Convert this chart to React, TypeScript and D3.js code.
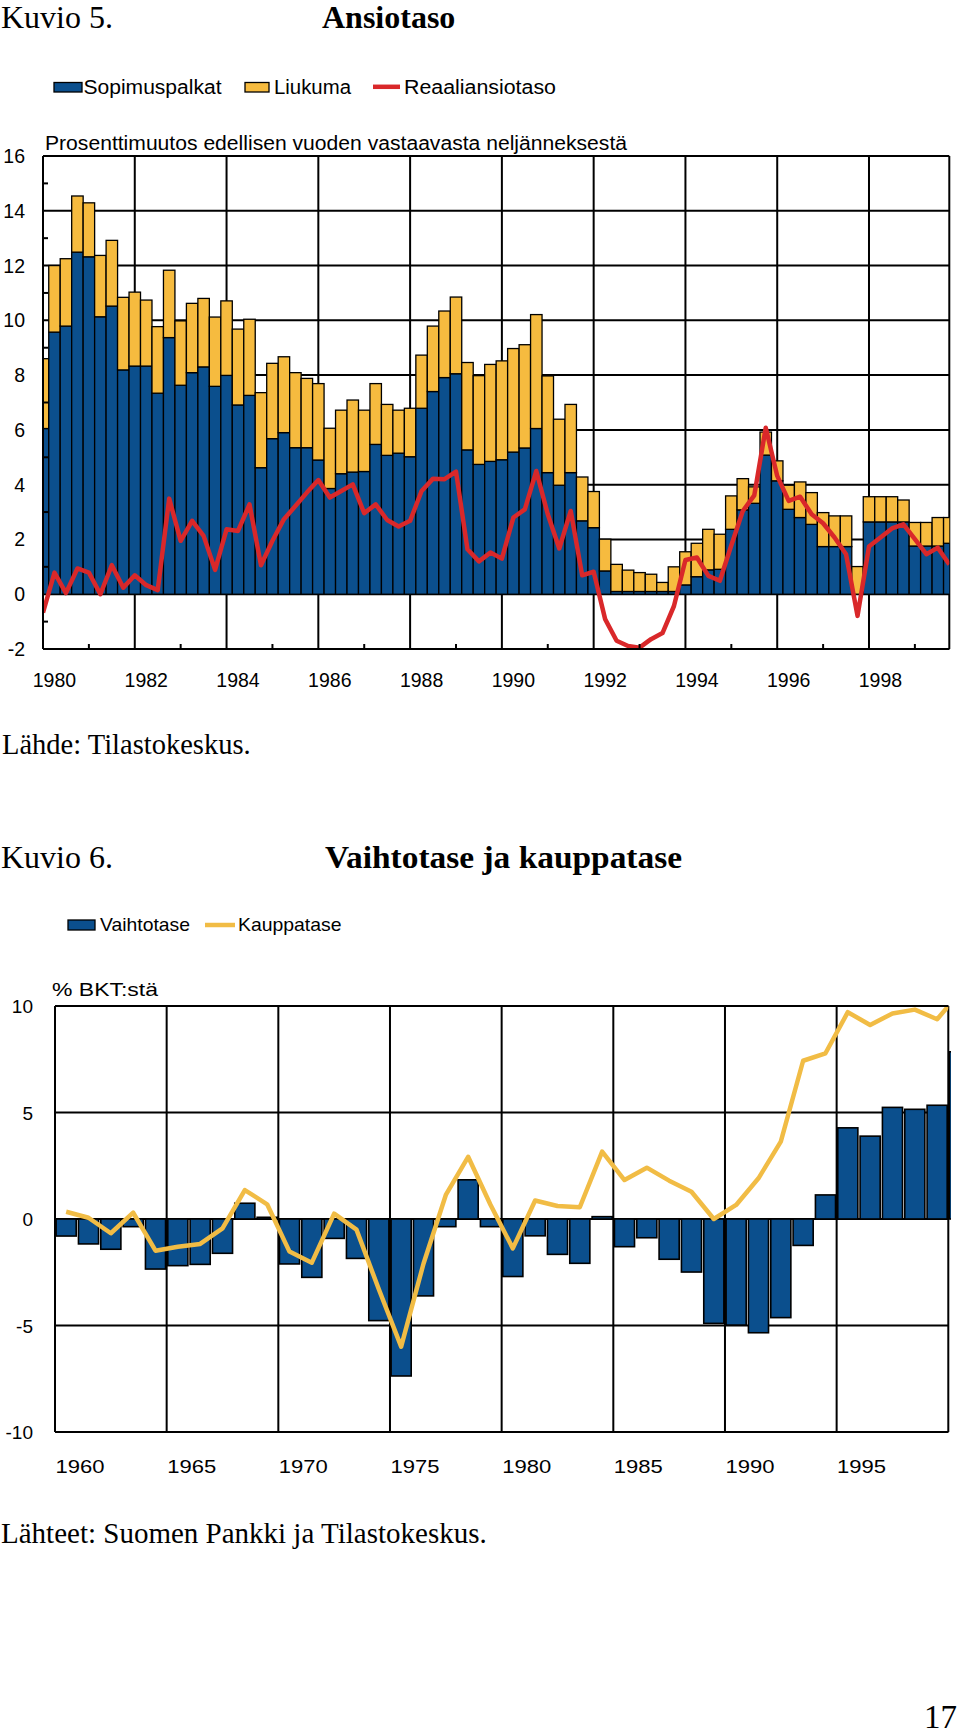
import React, { useEffect } from 'react';
import * as d3 from 'd3';

const SANS = "'Liberation Sans', Arial, Helvetica, sans-serif";
const SERIF = "'Liberation Serif', 'Times New Roman', Times, serif";

const BLUE = '#0b4f8d';
const YELLOW = '#f6bb3f';
const RED = '#d9282a';
const LINEYEL = '#f1bc45';
const INK = '#000000';

// ---------- Kuvio 5: Ansiotaso (quarterly, 1979Q4 .. 1999Q3) ----------
const quarters = [
  '1979Q4',
  '1980Q1', '1980Q2', '1980Q3', '1980Q4', '1981Q1', '1981Q2', '1981Q3', '1981Q4',
  '1982Q1', '1982Q2', '1982Q3', '1982Q4', '1983Q1', '1983Q2', '1983Q3', '1983Q4',
  '1984Q1', '1984Q2', '1984Q3', '1984Q4', '1985Q1', '1985Q2', '1985Q3', '1985Q4',
  '1986Q1', '1986Q2', '1986Q3', '1986Q4', '1987Q1', '1987Q2', '1987Q3', '1987Q4',
  '1988Q1', '1988Q2', '1988Q3', '1988Q4', '1989Q1', '1989Q2', '1989Q3', '1989Q4',
  '1990Q1', '1990Q2', '1990Q3', '1990Q4', '1991Q1', '1991Q2', '1991Q3', '1991Q4',
  '1992Q1', '1992Q2', '1992Q3', '1992Q4', '1993Q1', '1993Q2', '1993Q3', '1993Q4',
  '1994Q1', '1994Q2', '1994Q3', '1994Q4', '1995Q1', '1995Q2', '1995Q3', '1995Q4',
  '1996Q1', '1996Q2', '1996Q3', '1996Q4', '1997Q1', '1997Q2', '1997Q3', '1997Q4',
  '1998Q1', '1998Q2', '1998Q3', '1998Q4', '1999Q1', '1999Q2', '1999Q3',
];

const sopimuspalkat = [
  6.05,
  9.57, 9.79, 12.49, 12.32, 10.13, 10.52, 8.19, 8.33,
  8.33, 7.34, 9.37, 7.63, 8.09, 8.30, 7.59, 7.99,
  6.91, 7.26, 4.62, 5.68, 5.90, 5.35, 5.35, 4.90,
  3.86, 4.40, 4.46, 4.48, 5.47, 5.07, 5.15, 5.02,
  6.79, 7.40, 7.91, 8.05, 5.27, 4.74, 4.85, 4.91,
  5.19, 5.34, 6.05, 4.44, 3.98, 4.44, 2.68, 2.43,
  0.85, 0.10, 0.10, 0.10, 0.10, 0.10, 0.10, 0.34,
  0.64, 0.89, 0.91, 2.37, 3.08, 3.32, 5.08, 4.14,
  3.10, 2.80, 2.55, 1.74, 1.74, 1.74, 0.00, 2.64,
  2.64, 2.64, 2.64, 1.76, 1.76, 1.76, 1.86,
];

const liukuma = [
  2.55,
  2.43, 2.46, 2.05, 1.97, 2.24, 2.40, 2.65, 2.70,
  2.41, 2.43, 2.46, 2.35, 2.53, 2.50, 2.53, 2.72,
  2.77, 2.78, 2.74, 2.75, 2.77, 2.74, 2.53, 2.79,
  2.20, 2.32, 2.63, 2.24, 2.22, 1.86, 1.57, 1.77,
  1.94, 2.39, 2.43, 2.80, 3.19, 3.24, 3.54, 3.61,
  3.78, 3.77, 4.16, 3.53, 2.41, 2.49, 1.60, 1.32,
  1.16, 0.99, 0.78, 0.69, 0.63, 0.33, 0.90, 1.21,
  1.22, 1.48, 1.28, 1.22, 1.14, 0.60, 0.84, 0.73,
  0.88, 1.30, 1.16, 1.24, 1.12, 1.12, 1.01, 0.92,
  0.92, 0.92, 0.80, 0.86, 0.86, 1.04, 0.94,
];

const reaaliansiotaso = [
  -0.67,
  0.79, 0.04, 0.94, 0.79, 0.00, 1.06, 0.24, 0.69,
  0.33, 0.15, 3.49, 1.95, 2.68, 2.13, 0.89, 2.37,
  2.31, 3.28, 1.06, 1.95, 2.74, 3.22, 3.71, 4.17,
  3.53, 3.77, 4.01, 2.96, 3.28, 2.71, 2.47, 2.68,
  3.77, 4.22, 4.20, 4.48, 1.64, 1.20, 1.52, 1.30,
  2.80, 3.10, 4.50, 2.92, 1.67, 3.04, 0.69, 0.82,
  -0.91, -1.70, -1.89, -1.95, -1.64, -1.42, -0.43, 1.25,
  1.34, 0.67, 0.49, 1.79, 3.04, 3.61, 6.08, 4.32,
  3.41, 3.56, 2.92, 2.59, 2.07, 1.46, -0.79, 1.74,
  2.07, 2.40, 2.55, 2.01, 1.46, 1.70, 1.09,
];

const yTicks1 = [-2, 0, 2, 4, 6, 8, 10, 12, 14, 16];
const yMinorTicks1 = [-1, 1, 3, 5, 7, 9, 11, 13, 15];
const xLabels1 = ['1980', '1982', '1984', '1986', '1988', '1990', '1992', '1994', '1996', '1998'];

// ---------- Kuvio 6: Vaihtotase ja kauppatase (annual) ----------
const years2 = [
  1960, 1961, 1962, 1963, 1964, 1965, 1966, 1967, 1968, 1969,
  1970, 1971, 1972, 1973, 1974, 1975, 1976, 1977, 1978, 1979,
  1980, 1981, 1982, 1983, 1984, 1985, 1986, 1987, 1988, 1989,
  1990, 1991, 1992, 1993, 1994, 1995, 1996, 1997, 1998, 1999,
  2000,
];

const vaihtotase = [
  -0.80, -1.17, -1.42, -0.36, -2.35, -2.19, -2.13, -1.61, 0.74, 0.08,
  -2.11, -2.74, -0.91, -1.85, -4.77, -7.37, -3.61, -0.36, 1.84, -0.36,
  -2.70, -0.79, -1.66, -2.08, 0.11, -1.30, -0.88, -1.89, -2.49, -4.90,
  -4.98, -5.34, -4.63, -1.24, 1.13, 4.28, 3.89, 5.24, 5.15, 5.34,
  7.85,
];

const kauppatase = [
  0.34, 0.06, -0.67, 0.30, -1.49, -1.30, -1.17, -0.44, 1.36, 0.69,
  -1.53, -2.05, 0.25, -0.50, -3.30, -5.99, -2.10, 1.13, 2.92, 0.67,
  -1.38, 0.87, 0.61, 0.55, 3.16, 1.83, 2.41, 1.80, 1.28, 0.00,
  0.66, 1.91, 3.63, 7.43, 7.78, 9.71, 9.11, 9.65, 9.83, 9.38,
  10.60,
];

const yTicks2 = [-10, -5, 0, 5, 10];
const xLabels2 = ['1960', '1965', '1970', '1975', '1980', '1985', '1990', '1995'];

export default function App() {
  useEffect(() => {
    document.body.style.margin = '0';
  }, []);

  // ---- chart 1 geometry ----
  const X1L = 43, X1R = 949.3, Y1T = 156, Y1B = 649;
  const x1 = d3.scaleLinear().domain([0, quarters.length - 1]).range([X1L, X1R]);
  const y1 = d3.scaleLinear().domain([-2, 16]).range([Y1B, Y1T]);
  const bw1 = x1(1) - x1(0);
  const gridIdx1 = quarters
    .map((q, i) => ({ q, i }))
    .filter(({ q }) => q.endsWith('Q4') && +q.slice(0, 4) % 2 === 1)
    .map(({ i }) => i);
  const minorIdx1 = quarters
    .map((q, i) => ({ q, i }))
    .filter(({ q }) => q.endsWith('Q4') && +q.slice(0, 4) % 2 === 0)
    .map(({ i }) => i);
  const labelIdx1 = xLabels1.map((l) => quarters.indexOf(l + 'Q1'));
  const redLine = d3
    .line<number>()
    .x((_, i) => x1(i))
    .y((d) => y1(d))(reaaliansiotaso) || '';

  // ---- chart 2 geometry ----
  const X2L = 55, X2R = 948.3, Y2T = 1006, Y2B = 1432;
  const edge2 = d3.scaleLinear().domain([1960, 2000]).range([X2L, X2R]);
  const step2 = edge2(1961) - edge2(1960);
  const x2 = d3
    .scaleBand<number>()
    .domain(years2)
    .range([X2L, X2L + step2 * years2.length])
    .paddingInner(0.1)
    .paddingOuter(0.05);
  const y2 = d3.scaleLinear().domain([-10, 10]).range([Y2B, Y2T]);
  const bw2 = x2.bandwidth();
  const yelLine = d3
    .line<number>()
    .x((_, i) => (x2(years2[i]) as number) + bw2 / 2)
    .y((d) => y2(d))(kauppatase) || '';
  const grid2Years = [1960, 1965, 1970, 1975, 1980, 1985, 1990, 1995, 2000];

  return (
    <div style={{ position: 'absolute', left: 0, top: 0 }}>
      <svg width={960} height={1736} style={{ display: 'block' }} xmlns="http://www.w3.org/2000/svg">
        <rect x={0} y={0} width={960} height={1736} fill="#ffffff" />
        <defs>
          <clipPath id="clip1">
            <rect x={X1L} y={Y1T - 2} width={X1R - X1L} height={Y1B - Y1T + 4} />
          </clipPath>
          <clipPath id="clip2bars">
            <rect x={X2L} y={Y2T} width={X2R - X2L + 2.6} height={Y2B - Y2T} />
          </clipPath>
          <clipPath id="clip2line">
            <rect x={X2L} y={Y2T} width={X2R - X2L} height={Y2B - Y2T} />
          </clipPath>
        </defs>

        {/* ================= Kuvio 5 ================= */}
        <text x={1} y={28} fontFamily={SERIF} fontSize={32} fill={INK}>Kuvio 5.</text>
        <text x={322} y={28} fontFamily={SERIF} fontSize={32} fontWeight="bold" fill={INK}>Ansiotaso</text>

        {/* legend */}
        <rect x={54} y={82.5} width={28} height={9.5} fill={BLUE} stroke={INK} strokeWidth={1.3} />
        <text x={83.5} y={94} fontFamily={SANS} fontSize={19.5} textLength={138} lengthAdjust="spacingAndGlyphs">Sopimuspalkat</text>
        <rect x={245} y={82.5} width={24} height={9.5} fill={YELLOW} stroke={INK} strokeWidth={1.3} />
        <text x={274} y={94} fontFamily={SANS} fontSize={19.5} textLength={77} lengthAdjust="spacingAndGlyphs">Liukuma</text>
        <line x1={373} x2={400} y1={86.8} y2={86.8} stroke={RED} strokeWidth={4.5} />
        <text x={404} y={94} fontFamily={SANS} fontSize={19.5} textLength={152} lengthAdjust="spacingAndGlyphs">Reaaliansiotaso</text>

        <text x={45} y={149.5} fontFamily={SANS} fontSize={19.5} textLength={582} lengthAdjust="spacingAndGlyphs">
          Prosenttimuutos edellisen vuoden vastaavasta neljänneksestä
        </text>

        {/* grid */}
        <g stroke={INK} strokeWidth={2}>
          {yTicks1.map((t) => (
            <line key={'h' + t} x1={X1L} x2={X1R} y1={y1(t)} y2={y1(t)} />
          ))}
          {gridIdx1.map((i) => (
            <line key={'v' + i} x1={x1(i)} x2={x1(i)} y1={Y1T} y2={Y1B} />
          ))}
          <line x1={X1R} x2={X1R} y1={Y1T} y2={Y1B} />
        </g>

        {/* bars */}
        <g clipPath="url(#clip1)" stroke={INK} strokeWidth={1.3}>
          {quarters.map((q, i) => {
            const s = sopimuspalkat[i];
            const l = liukuma[i];
            const bx = x1(i) - bw1 / 2;
            return (
              <g key={q}>
                {s > 0 && (
                  <rect x={bx} y={y1(s)} width={bw1} height={y1(0) - y1(s)} fill={BLUE} />
                )}
                <rect x={bx} y={y1(s + l)} width={bw1} height={y1(s) - y1(s + l)} fill={YELLOW} />
              </g>
            );
          })}
        </g>

        {/* red line */}
        <g clipPath="url(#clip1)">
          <path d={redLine} fill="none" stroke={RED} strokeWidth={4.5} strokeLinejoin="round" />
        </g>

        {/* axes on top */}
        <g stroke={INK} strokeWidth={2}>
          <line x1={X1L} x2={X1L} y1={Y1T} y2={Y1B} />
          <line x1={X1L} x2={X1R} y1={Y1B} y2={Y1B} />
          {yMinorTicks1.map((t) => (
            <line key={'ym' + t} x1={X1L} x2={X1L + 5} y1={y1(t)} y2={y1(t)} />
          ))}
          {minorIdx1.map((i) => (
            <line key={'xm' + i} x1={x1(i)} x2={x1(i)} y1={Y1B} y2={Y1B - 5} />
          ))}
        </g>

        {/* tick labels */}
        {yTicks1.map((t) => (
          <text key={'yl' + t} x={25} y={y1(t) + 7} textAnchor="end" fontFamily={SANS} fontSize={19.5}>
            {t}
          </text>
        ))}
        {xLabels1.map((l, k) => (
          <text key={'xl' + l} x={x1(labelIdx1[k])} y={687} textAnchor="middle" fontFamily={SANS} fontSize={19.5}>
            {l}
          </text>
        ))}

        <text x={2} y={754} fontFamily={SERIF} fontSize={28.5}>Lähde: Tilastokeskus.</text>

        {/* ================= Kuvio 6 ================= */}
        <text x={1} y={868} fontFamily={SERIF} fontSize={32} fill={INK}>Kuvio 6.</text>
        <text x={325} y={868} fontFamily={SERIF} fontSize={32} fontWeight="bold" fill={INK} textLength={357} lengthAdjust="spacingAndGlyphs">
          Vaihtotase ja kauppatase
        </text>

        <rect x={68} y={920} width={27} height={10} fill={BLUE} stroke={INK} strokeWidth={1.3} />
        <text x={100} y={931} fontFamily={SANS} fontSize={19} textLength={90} lengthAdjust="spacingAndGlyphs">Vaihtotase</text>
        <line x1={205} x2={235} y1={925} y2={925} stroke={LINEYEL} strokeWidth={4.5} />
        <text x={238} y={931} fontFamily={SANS} fontSize={19} textLength={103.5} lengthAdjust="spacingAndGlyphs">Kauppatase</text>

        <text x={52} y={996} fontFamily={SANS} fontSize={19} textLength={106} lengthAdjust="spacingAndGlyphs">% BKT:stä</text>

        {/* grid */}
        <g stroke={INK} strokeWidth={2}>
          {yTicks2.map((t) => (
            <line key={'h2' + t} x1={X2L} x2={X2R} y1={y2(t)} y2={y2(t)} />
          ))}
          {grid2Years.map((yr) => (
            <line key={'v2' + yr} x1={edge2(yr)} x2={edge2(yr)} y1={Y2T} y2={Y2B} />
          ))}
        </g>

        {/* bars */}
        <g clipPath="url(#clip2bars)" stroke={INK} strokeWidth={1.6}>
          {years2.map((yr, i) => {
            const v = vaihtotase[i];
            const top = y2(Math.max(0, v));
            const h = Math.abs(y2(v) - y2(0));
            return <rect key={'b' + yr} x={x2(yr)} y={top} width={bw2} height={h} fill={BLUE} />;
          })}
        </g>

        <g clipPath="url(#clip2line)">
          <path d={yelLine} fill="none" stroke={LINEYEL} strokeWidth={4.5} strokeLinejoin="round" />
        </g>

        {/* axes on top */}
        <g stroke={INK} strokeWidth={2}>
          <line x1={X2L} x2={X2L} y1={Y2T} y2={Y2B} />
          <line x1={X2L} x2={X2R} y1={Y2B} y2={Y2B} />
          <line x1={X2L} x2={X2R} y1={Y2T} y2={Y2T} />
        </g>

        {yTicks2.map((t) => (
          <text key={'yl2' + t} x={33} y={y2(t) + 7} textAnchor="end" fontFamily={SANS} fontSize={19}>
            {t}
          </text>
        ))}
        {xLabels2.map((l) => (
          <text key={'xl2' + l} x={edge2(+l) + 0.5} y={1473} fontFamily={SANS} fontSize={19} textLength={49} lengthAdjust="spacingAndGlyphs">
            {l}
          </text>
        ))}

        <text x={1} y={1543} fontFamily={SERIF} fontSize={29}>Lähteet: Suomen Pankki ja Tilastokeskus.</text>

        <text x={957} y={1728} textAnchor="end" fontFamily={SERIF} fontSize={33}>17</text>
      </svg>
    </div>
  );
}
